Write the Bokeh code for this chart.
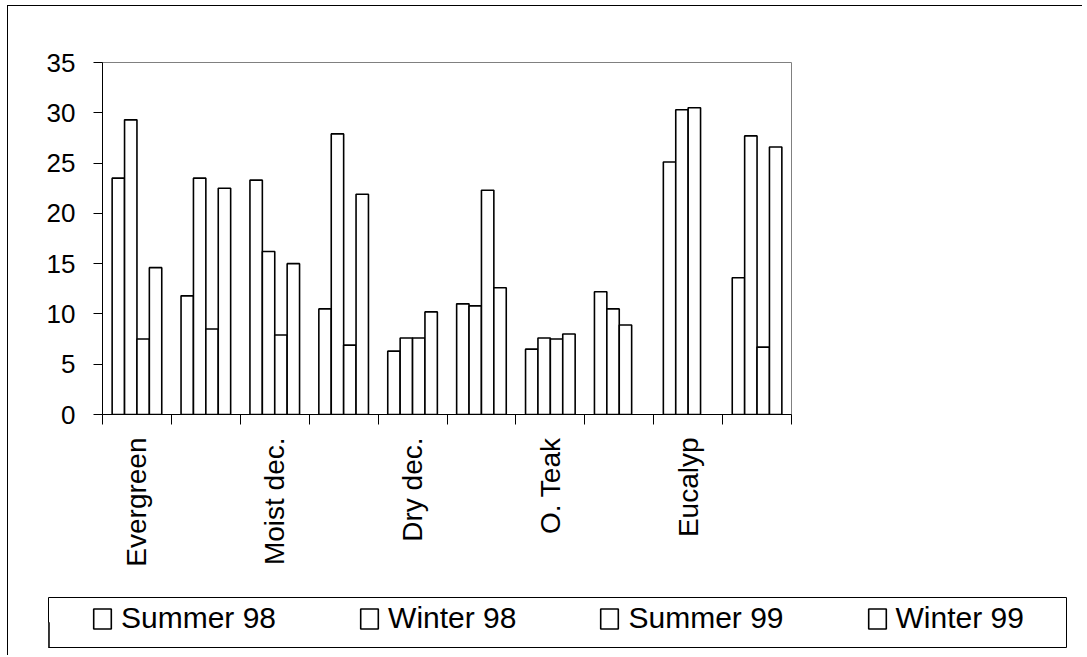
import numpy as np
from math import pi
from bokeh.plotting import figure
from bokeh.models import (Range1d, FixedTicker, Legend, LegendItem, CustomJSTickFormatter)
from bokeh.embed import file_html
from bokeh.resources import INLINE

# ---- data ----
categories = ["Evergreen", "", "Moist dec.", "", "Dry dec.", "", "O. Teak", "", "Eucalyp", ""]
series_names = ["Summer 98", "Winter 98", "Summer 99", "Winter 99"]
summer98 = [23.5, 11.8, 23.3, 10.5, 6.3, 11.0, 6.5, 12.2, 25.1, 13.6]
winter98 = [29.3, 23.5, 16.2, 27.9, 7.6, 10.8, 7.6, 10.5, 30.3, 27.7]
summer99 = [7.5, 8.5, 7.9, 6.9, 7.6, 22.3, 7.5, 8.9, 30.5, 6.7]
winter99 = [14.6, 22.5, 15.0, 21.9, 10.2, 12.6, 8.0, None, None, 26.6]
y_ticks = [0, 5, 10, 15, 20, 25, 30, 35]

FONT = "Liberation Sans"
n_cat = len(categories)
bar_w = 0.18
BAR_LW = 1.6
W = 1075

# ---- main chart ----
p = figure(width=W, height=580, x_range=Range1d(0, n_cat), y_range=Range1d(0, 35),
           output_backend="svg", toolbar_location=None,
           min_border_left=94, min_border_right=W - 783, min_border_top=56, min_border_bottom=172)
p.styles = {"margin-left": "7px", "margin-top": "5px",
            "border-top": "1px solid black", "border-left": "1px solid black"}
p.background_fill_color = "white"
p.border_fill_color = "white"
p.outline_line_color = "#808080"
p.outline_line_width = 1
p.xgrid.visible = False
p.ygrid.visible = False

for j, vals in enumerate([summer98, winter98, summer99, winter99]):
    xs = np.arange(n_cat) + 0.5 + (j - 1.5) * bar_w
    tops = np.array(vals, dtype=float)
    p.vbar(x=xs, top=tops, bottom=0, width=bar_w, fill_color="white",
           line_color="black", line_width=BAR_LW)

# y axis
p.yaxis.ticker = FixedTicker(ticks=y_ticks)
p.yaxis.major_tick_out = 9
p.yaxis.major_tick_in = 0
p.yaxis.minor_tick_out = 0
p.yaxis.minor_tick_in = 0
p.yaxis.major_label_standoff = 18
p.yaxis.major_label_text_font = FONT
p.yaxis.major_label_text_font_size = "26px"
p.yaxis.major_label_text_color = "black"
p.yaxis.axis_line_color = "black"
p.yaxis.major_tick_line_color = "black"

# x axis: ticks between categories, labels at category centres
label_pos = [i + 0.5 for i, c in enumerate(categories) if c]
p.xaxis.ticker = FixedTicker(ticks=label_pos, minor_ticks=list(range(n_cat + 1)))
p.xaxis.formatter = CustomJSTickFormatter(args=dict(names=categories),
                                          code="return names[Math.round(tick - 0.5)] || '';")
p.xaxis.major_label_orientation = pi / 2
p.xaxis.major_tick_out = 0
p.xaxis.major_tick_in = 0
p.xaxis.minor_tick_out = 10
p.xaxis.minor_tick_in = 0
p.xaxis.major_label_standoff = 13
p.xaxis.major_label_text_font = FONT
p.xaxis.major_label_text_font_size = "28px"
p.xaxis.major_label_text_color = "black"
p.xaxis.axis_line_color = "black"
p.xaxis.minor_tick_line_color = "black"

# ---- legend strip (separate root, stacked below) ----
LH = 70
pl = figure(width=W, height=LH, x_range=Range1d(0, 1), y_range=Range1d(0, 1),
            x_axis_type=None, y_axis_type=None,
            output_backend="svg", toolbar_location=None,
            min_border_left=40, min_border_right=W - 1058, min_border_top=12, min_border_bottom=LH - 62)
pl.styles = {"margin-left": "7px", "border-left": "1px solid black"}
pl.background_fill_color = "white"
pl.border_fill_color = "white"
pl.outline_line_color = "black"
pl.outline_line_width = 1
pl.xgrid.visible = False
pl.ygrid.visible = False

leg_renderers = [pl.vbar(x=[-5], top=[0.5], width=0.1, fill_color="white", line_color="black",
                         line_width=BAR_LW) for _ in series_names]
legend = Legend(items=[LegendItem(label=n, renderers=[r]) for n, r in zip(series_names, leg_renderers)],
                orientation="horizontal", location=(43, 12),
                glyph_width=22, glyph_height=25, label_standoff=8, spacing=82,
                padding=0, margin=0, border_line_alpha=0, background_fill_alpha=0,
                label_text_font=FONT, label_text_font_size="30px", label_text_color="black")
pl.add_layout(legend, "center")

open("out.html", "w").write(file_html([p, pl], INLINE))
